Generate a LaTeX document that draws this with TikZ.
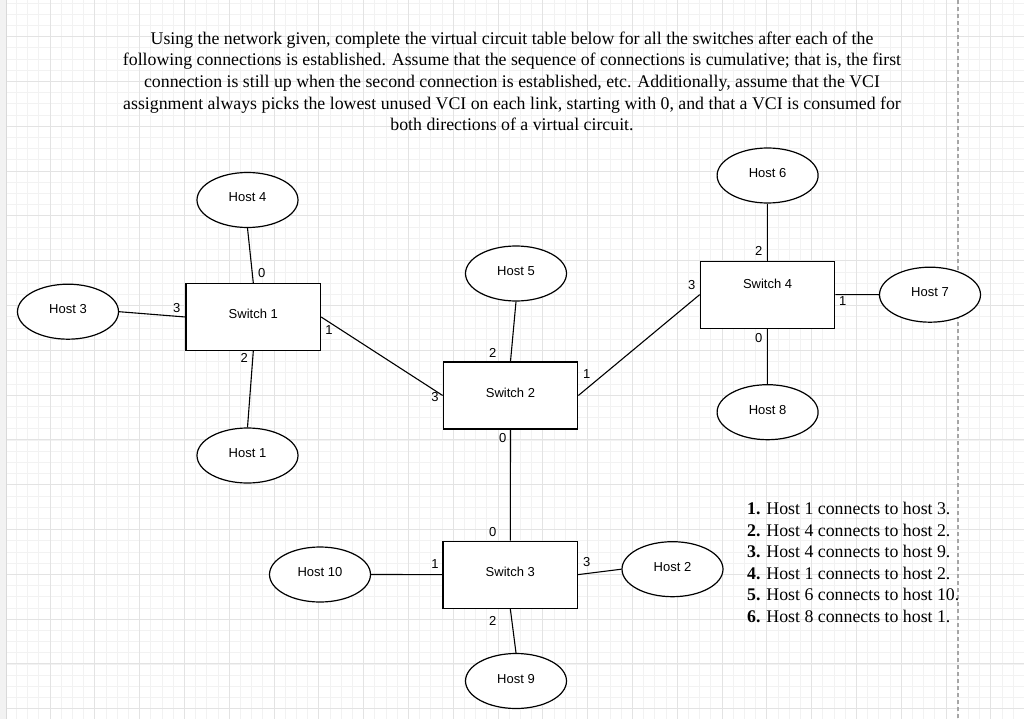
\documentclass[tikz,border=0pt]{standalone}
\usepackage{fontspec}
\setmainfont{Liberation Serif}
\newfontfamily\arialfont{Liberation Sans}
\usetikzlibrary{shapes.geometric}
\tikzset{
  minorgrid/.style={draw=black!5, line width=0.8pt},
  majorgrid/.style={draw=black!11, line width=1pt},
  host/.style={ellipse, draw=black, fill=white, line width=1.2pt, minimum width=101pt, minimum height=55pt, inner sep=0pt, font=\arialfont\fontsize{13}{15}\selectfont, text depth=5pt},
  switchbox/.style={rectangle, draw=black, fill=white, line width=1.2pt, minimum width=134.5pt, minimum height=67pt, inner sep=0pt, font=\arialfont\fontsize{13}{15}\selectfont, text depth=5pt},
  link/.style={draw=black, line width=1.1pt},
  port/.style={inner sep=0pt, font=\arialfont\fontsize{13}{15}\selectfont},
  serifblock/.style={inner sep=0pt, font=\fontsize{17.8}{21.6}\selectfont}
}
\begin{document}
\begin{tikzpicture}[x=1pt,y=-1pt]
\useasboundingbox (0,0) rectangle (1024,719);
\fill[white] (0,0) rectangle (1024,719);
% grid
\foreach \i in {0,...,91} {\draw[minorgrid] ({5.2+11.2*\i},0) -- ({5.2+11.2*\i},719);}
\foreach \i in {0,...,64} {\draw[minorgrid] (0,{3.1+11.2*\i}) -- (1024,{3.1+11.2*\i});}
\foreach \i in {0,...,22} {\draw[majorgrid] ({50+44.8*\i},0) -- ({50+44.8*\i},719);}
\foreach \i in {0,...,15} {\draw[majorgrid] (0,{36.7+44.8*\i}) -- (1024,{36.7+44.8*\i});}
\fill[black!5] (0,0) rectangle (6,719);
\draw[black!15, line width=1pt] (6,0) -- (6,719);
\draw[black!35, line width=1.2pt, dash pattern=on 4pt off 3pt] (958,0) -- (958,719);

% title
\node[serifblock, align=center, anchor=north] (title) at (512,31.5)
 {Using the network given, complete the virtual circuit table below for all the switches after each of the\\
 following connections is established. Assume that the sequence of connections is cumulative; that is, the first\\
 connection is still up when the second connection is established, etc. Additionally, assume that the VCI\\
 assignment always picks the lowest unused VCI on each link, starting with 0, and that a VCI is consumed for\\
 both directions of a virtual circuit.};

% hosts
\node[host] (h4) at (247.5,200) {Host 4};
\node[host] (h3) at (68,311.7) {Host 3};
\node[host] (h1) at (247.5,455.5) {Host 1};
\node[host] (h5) at (516,273.5) {Host 5};
\node[host] (h6) at (767.6,175.5) {Host 6};
\node[host] (h7) at (930,294.7) {Host 7};
\node[host] (h8) at (767.6,412.2) {Host 8};
\node[host] (h10) at (320,574.5) {Host 10};
\node[host] (h2) at (672.5,569.2) {Host 2};
\node[host] (h9) at (516,681) {Host 9};

% switches
\node[switchbox, text depth=6pt] (s1) at (253.3,317) {Switch 1};
\node[switchbox] (s2) at (510.5,395.5) {Switch 2};
\node[switchbox] (s3) at (510.3,574.6) {Switch 3};
\node[switchbox, text depth=21pt] (s4) at (767.6,294.6) {Switch 4};

% links
\draw[link] (h4.south) -- (s1.north);
\draw[link] (h3.east) -- (s1.west);
\draw[link] (s1.south) -- (h1.north);
\draw[link] (s1.east) -- (s2.west);
\draw[link] (h5.south) -- (s2.north);
\draw[link] (s2.east) -- (s4.west);
\draw[link] (h6.south) -- (s4.north);
\draw[link] (s4.east) -- (h7.west);
\draw[link] (s4.south) -- (h8.north);
\draw[link] (s2.south) -- (s3.north);
\draw[link] (h10.east) -- (s3.west);
\draw[link] (s3.east) -- (h2.west);
\draw[link] (s3.south) -- (h9.north);

% port numbers
\node[port] (p1a) at (261.7,273.5) {0};
\node[port] (p1b) at (176.7,308) {3};
\node[port] (p1c) at (244.3,358.3) {2};
\node[port] (p1d) at (329,330) {1};
\node[port] (p2a) at (435,396.7) {3};
\node[port] (p2b) at (492.7,352.5) {2};
\node[port] (p2c) at (586.7,374.3) {1};
\node[port] (p2d) at (502.7,437.7) {0};
\node[port] (p4a) at (691.7,285) {3};
\node[port] (p4b) at (758.7,250.5) {2};
\node[port] (p4c) at (842.7,300.7) {1};
\node[port] (p4d) at (758.7,337.7) {0};
\node[port] (p3a) at (492.7,532.3) {0};
\node[port] (p3b) at (435,564) {1};
\node[port] (p3c) at (586.7,561.7) {3};
\node[port] (p3d) at (492.7,621) {2};

% connection list
\node[serifblock, align=left, anchor=north west] (list) at (747,502)
 {\textbf{1.} Host 1 connects to host 3.\\
 \textbf{2.} Host 4 connects to host 2.\\
 \textbf{3.} Host 4 connects to host 9.\\
 \textbf{4.} Host 1 connects to host 2.\\
 \textbf{5.} Host 6 connects to host 10.\\
 \textbf{6.} Host 8 connects to host 1.};
\end{tikzpicture}
\end{document}
